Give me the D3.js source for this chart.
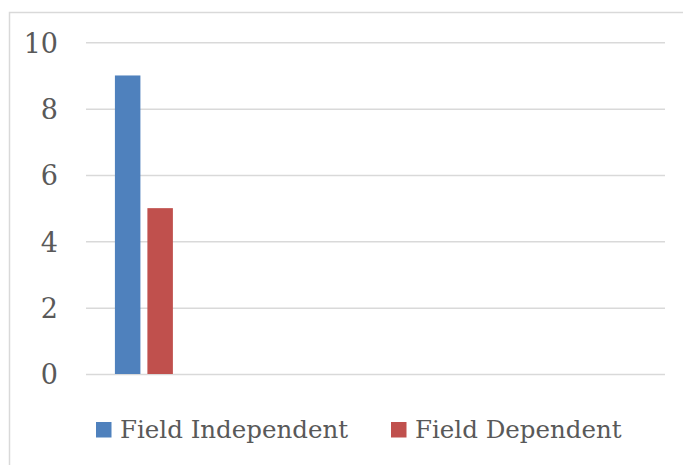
<!DOCTYPE html>
<html>
<head>
<meta charset="utf-8">
<script src="https://cdn.jsdelivr.net/npm/d3@7"></script>
<style>
  html, body { margin: 0; padding: 0; background: #fff; }
  svg { display: block; }
  text { font-family: "DejaVu Serif", serif; fill: #595959; }
</style>
</head>
<body>
<svg id="chart" width="683" height="465"></svg>
<script>
// ---- data ----
const categories = ["1", "2", "3", "4", "5"];
const seriesNames = ["Field Independent", "Field Dependent"];
const fieldIndependent = [9, null, null, null, null];
const fieldDependent = [5, null, null, null, null];
const yTicks = [0, 2, 4, 6, 8, 10];
const seriesColors = ["#4F81BD", "#C0504D"];

const seriesValues = [fieldIndependent, fieldDependent];

const svg = d3.select("#chart");

// outer border
svg.append("rect")
  .attr("x", 9.5).attr("y", 12.5)
  .attr("width", 700).attr("height", 500)
  .attr("fill", "none").attr("stroke", "#d9d9d9").attr("stroke-width", 1.5);

const plot = { left: 86, right: 665, top: 42.3, bottom: 374 };

const y = d3.scaleLinear().domain([0, 10]).range([plot.bottom, plot.top]);
const x = d3.scaleBand().domain(categories).range([plot.left, plot.right]).padding(0);
const xs = d3.scaleBand().domain(seriesNames).range([0, x.bandwidth()])
  .paddingInner(0.215).paddingOuter(0.89);

// gridlines + y labels via axis
const yAxis = d3.axisLeft(y).tickValues(yTicks).tickSize(-(plot.right - plot.left)).tickPadding(28).tickFormat(d3.format("d"));
const gAxis = svg.append("g").attr("transform", `translate(${plot.left},0)`).call(yAxis);
gAxis.select(".domain").remove();
gAxis.selectAll(".tick line").attr("stroke", "#d9d9d9").attr("stroke-width", 1.5);
gAxis.selectAll(".tick text")
  .attr("fill", "#595959")
  .style("font-family", '"DejaVu Serif", serif')
  .style("font-size", "27px")
  .attr("dy", "0.36em");

// bars
const rows = [];
categories.forEach((c, i) => {
  seriesNames.forEach((s, j) => {
    const v = seriesValues[j][i];
    if (v != null) rows.push({ cat: c, series: s, value: v, color: seriesColors[j] });
  });
});
svg.append("g").selectAll("rect").data(rows).join("rect")
  .attr("x", d => x(d.cat) + xs(d.series))
  .attr("width", xs.bandwidth())
  .attr("y", d => y(d.value))
  .attr("height", d => y(0) - y(d.value))
  .attr("fill", d => d.color);

// legend
const legendX = [96, 391];
const legend = svg.append("g");
seriesNames.forEach((s, j) => {
  legend.append("rect")
    .attr("x", legendX[j]).attr("y", 422)
    .attr("width", 15.5).attr("height", 15.5)
    .attr("fill", seriesColors[j]);
  legend.append("text")
    .attr("x", legendX[j] + 24).attr("y", 437.5)
    .style("font-size", "24.5px")
    .text(s);
});
</script>
</body>
</html>
